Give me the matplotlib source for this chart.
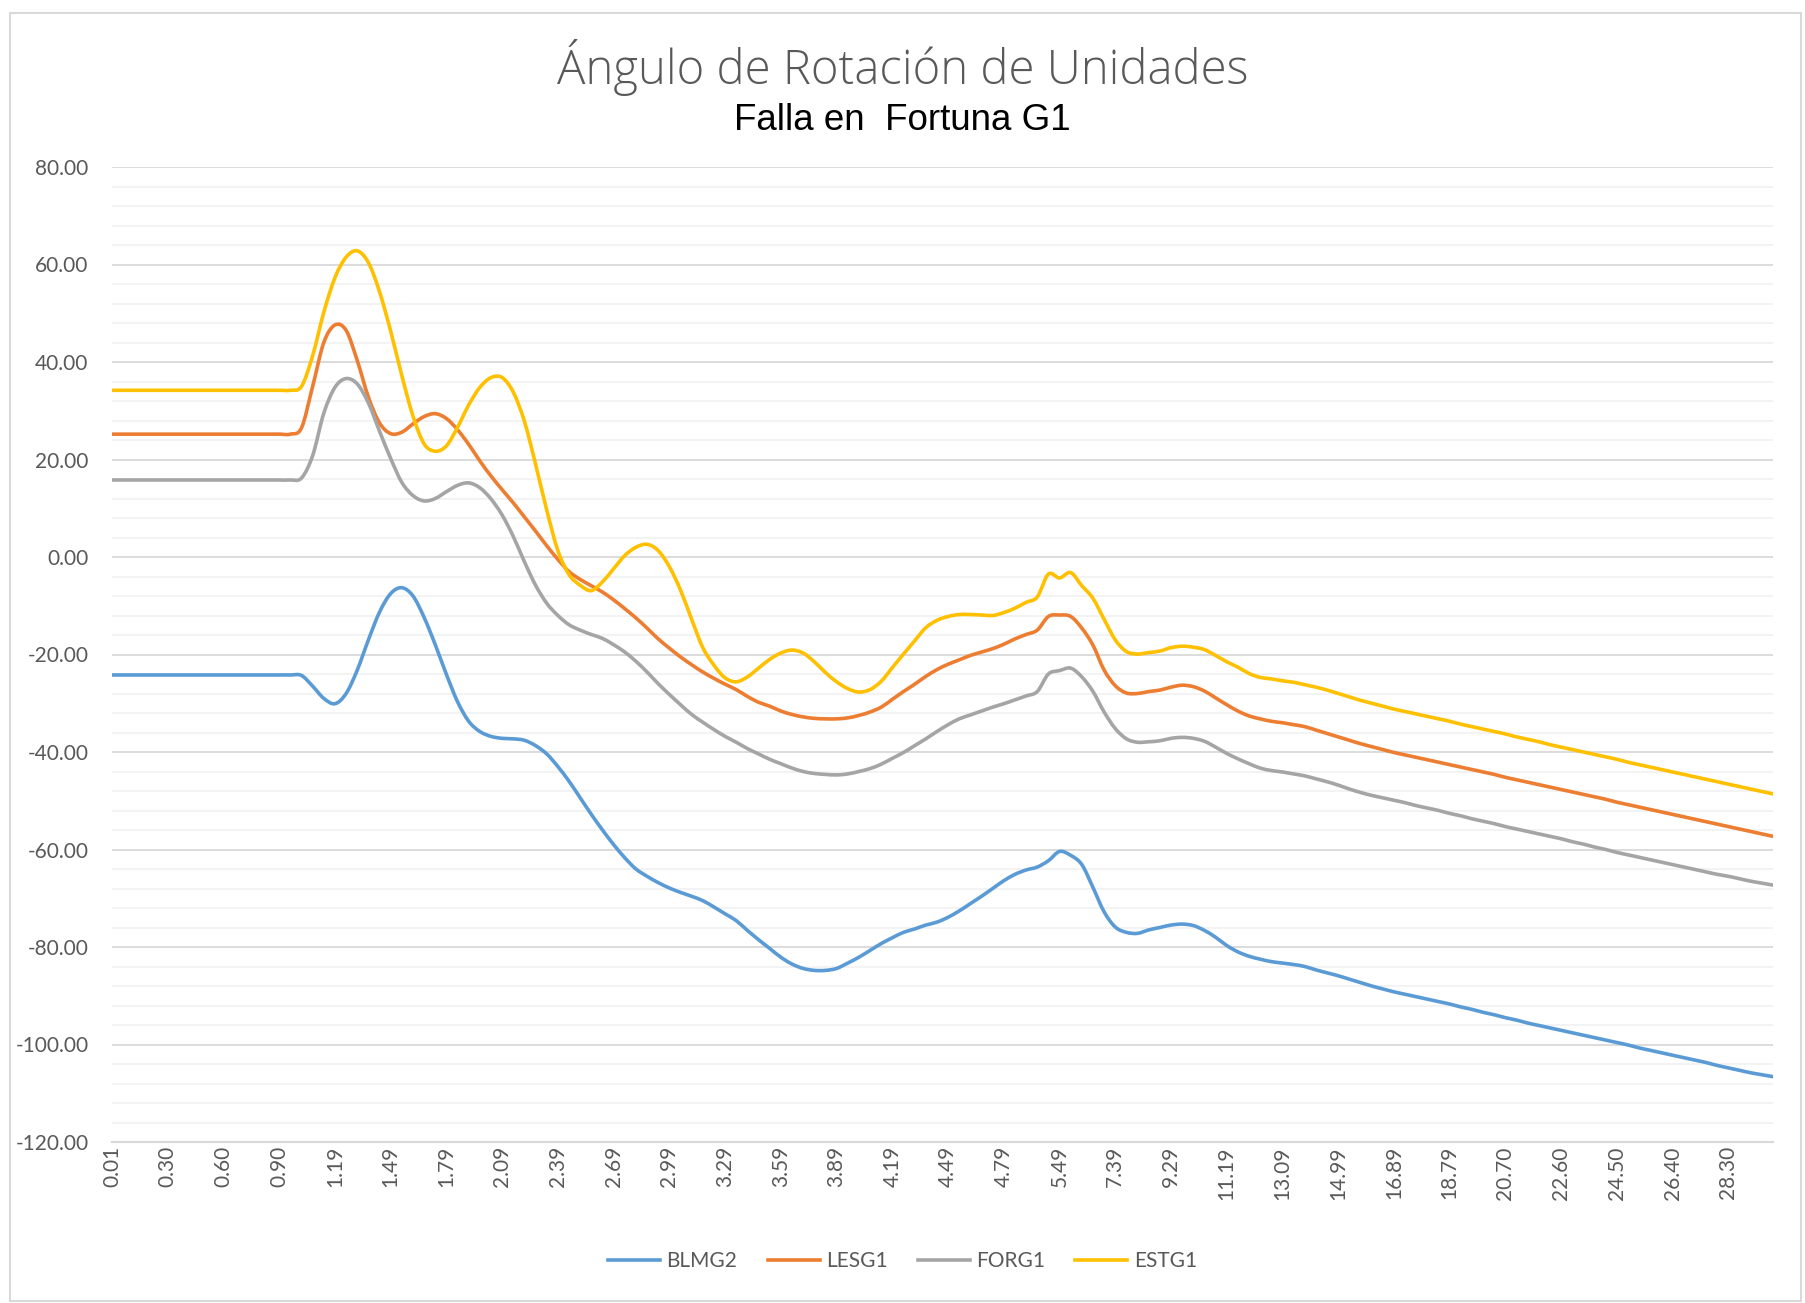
import matplotlib
matplotlib.use("Agg")
import matplotlib.pyplot as plt
from matplotlib.lines import Line2D
from matplotlib.patches import Rectangle, PathPatch
from matplotlib.path import Path


# category labels (one label every 5 samples)
time_labels = ["0.01", "0.30", "0.60", "0.90", "1.19", "1.49", "1.79", "2.09", "2.39", "2.69",
               "2.99", "3.29", "3.59", "3.89", "4.19", "4.49", "4.79", "5.49", "7.39", "9.29",
               "11.19", "13.09", "14.99", "16.89", "18.79", "20.70", "22.60", "24.50", "26.40", "28.30"]
points_per_label = 5

blmg2 = [-24.2] * 17 + [
    -24.3, -26.5, -29.0, -30.1, -28.0, -23.2, -17.0, -11.3, -7.5, -6.3,
    -8.0, -12.4, -18.0, -24.1, -29.7, -33.7, -35.8, -36.8, -37.2, -37.3,
    -37.6, -38.7, -40.4, -43.0, -46.0, -49.4, -52.8, -56.0, -59.0, -61.7,
    -64.0, -65.5, -66.8, -67.9, -68.8, -69.6, -70.5, -71.8, -73.2, -74.6,
    -76.6, -78.5, -80.3, -82.1, -83.5, -84.4, -84.8, -84.8, -84.4, -83.3,
    -82.1, -80.7, -79.3, -78.1, -77.0, -76.3, -75.5, -74.9, -73.9, -72.6,
    -71.1, -69.6, -68.0, -66.4, -65.1, -64.2, -63.6, -62.3, -60.4, -61.2,
    -63.1, -67.8, -72.8, -75.9, -77.0, -77.2, -76.5, -76.0, -75.5, -75.3,
    -75.6, -76.6, -78.0, -79.7, -81.0, -81.9, -82.5, -83.0, -83.3, -83.6,
    -84.0, -84.7, -85.3, -85.9, -86.6, -87.3, -88.0, -88.6, -89.2, -89.7,
    -90.2, -90.7, -91.2, -91.7, -92.3, -92.8, -93.4, -93.9, -94.5, -95.0,
    -95.6, -96.1, -96.6, -97.1, -97.6, -98.1, -98.6, -99.1, -99.6, -100.1,
    -100.7, -101.2, -101.7, -102.2, -102.7, -103.2, -103.7, -104.3, -104.8, -105.3,
    -105.8, -106.2, -106.6]

lesg1 = [25.2] * 17 + [
    26.5, 35.0, 44.0, 47.6, 46.5, 40.3, 32.8, 27.5, 25.3, 25.6,
    27.3, 28.8, 29.4, 28.4, 26.1, 23.1, 19.7, 16.6, 13.8, 11.1,
    8.2, 5.3, 2.3, -0.5, -3.0, -4.6, -5.9, -7.2, -8.8, -10.6,
    -12.5, -14.6, -16.8, -18.7, -20.5, -22.1, -23.6, -24.9, -26.1, -27.2,
    -28.6, -29.8, -30.6, -31.6, -32.3, -32.8, -33.1, -33.2, -33.2, -33.0,
    -32.5, -31.8, -30.8, -29.2, -27.6, -26.1, -24.5, -23.1, -22.0, -21.1,
    -20.2, -19.5, -18.8, -17.9, -16.8, -15.9, -15.0, -12.2, -11.9, -12.2,
    -14.6, -18.1, -23.2, -26.4, -27.9, -28.0, -27.6, -27.3, -26.7, -26.3,
    -26.6, -27.5, -28.9, -30.3, -31.6, -32.6, -33.2, -33.7, -34.0, -34.4,
    -34.8, -35.5, -36.2, -36.9, -37.6, -38.3, -38.9, -39.5, -40.1, -40.6,
    -41.1, -41.6, -42.1, -42.6, -43.1, -43.6, -44.1, -44.6, -45.2, -45.7,
    -46.2, -46.7, -47.2, -47.7, -48.2, -48.7, -49.2, -49.7, -50.3, -50.8,
    -51.3, -51.8, -52.3, -52.8, -53.3, -53.8, -54.3, -54.8, -55.3, -55.8,
    -56.3, -56.8, -57.3]

forg1 = [15.8] * 17 + [
    16.2, 20.8, 29.5, 34.8, 36.6, 35.5, 31.6, 25.8, 20.2, 15.3,
    12.6, 11.5, 12.0, 13.4, 14.7, 15.2, 14.2, 11.9, 8.6, 4.2,
    -1.0, -5.8, -9.5, -12.0, -13.9, -15.0, -15.9, -16.7, -18.0, -19.5,
    -21.4, -23.6, -26.0, -28.2, -30.3, -32.3, -33.9, -35.4, -36.8, -38.0,
    -39.3, -40.4, -41.5, -42.4, -43.3, -44.0, -44.4, -44.6, -44.7, -44.5,
    -44.0, -43.4, -42.5, -41.3, -40.1, -38.7, -37.3, -35.8, -34.4, -33.2,
    -32.4, -31.6, -30.8, -30.1, -29.3, -28.5, -27.6, -24.0, -23.3, -22.8,
    -24.6, -27.6, -31.8, -35.2, -37.3, -38.0, -37.9, -37.7, -37.2, -37.0,
    -37.2, -37.8, -39.0, -40.3, -41.4, -42.4, -43.3, -43.8, -44.1, -44.5,
    -44.9, -45.5, -46.1, -46.8, -47.6, -48.3, -48.9, -49.4, -49.9, -50.4,
    -51.0, -51.5, -52.0, -52.6, -53.1, -53.7, -54.2, -54.7, -55.3, -55.8,
    -56.3, -56.8, -57.3, -57.8, -58.4, -58.9, -59.5, -60.0, -60.6, -61.1,
    -61.6, -62.1, -62.6, -63.1, -63.6, -64.1, -64.6, -65.1, -65.5, -66.0,
    -66.5, -66.9, -67.3]

estg1 = [34.2] * 17 + [
    35.0, 41.3, 50.2, 57.3, 61.5, 62.8, 60.4, 54.4, 46.3, 37.2,
    28.9, 23.2, 21.7, 22.8, 26.6, 31.2, 34.8, 36.8, 36.8, 33.8,
    27.8, 19.0, 9.6, 1.3, -3.6, -5.8, -6.9, -5.1, -2.4, 0.3,
    2.0, 2.6, 1.3, -2.0, -6.8, -12.8, -18.6, -22.2, -24.8, -25.6,
    -24.6, -22.8, -21.0, -19.7, -19.1, -19.7, -21.5, -23.7, -25.6, -27.0,
    -27.7, -27.2, -25.5, -22.7, -19.9, -17.2, -14.5, -13.0, -12.2, -11.8,
    -11.8, -11.9, -12.0, -11.4, -10.5, -9.3, -8.2, -3.5, -4.3, -3.2,
    -5.9, -8.5, -12.8, -17.0, -19.4, -19.9, -19.6, -19.3, -18.6, -18.3,
    -18.5, -19.0, -20.2, -21.5, -22.6, -23.9, -24.7, -25.0, -25.4, -25.7,
    -26.2, -26.7, -27.3, -28.0, -28.7, -29.4, -30.0, -30.6, -31.2, -31.7,
    -32.2, -32.7, -33.2, -33.7, -34.3, -34.8, -35.3, -35.8, -36.3, -36.9,
    -37.4, -37.9, -38.5, -39.0, -39.5, -40.0, -40.5, -41.0, -41.5, -42.1,
    -42.6, -43.1, -43.6, -44.1, -44.6, -45.1, -45.6, -46.1, -46.6, -47.1,
    -47.6, -48.1, -48.6]

series_names = ["BLMG2", "LESG1", "FORG1", "ESTG1"]
series_colors = ["#5B9BD5", "#ED7D31", "#A5A5A5", "#FFC000"]
series_values = [blmg2, lesg1, forg1, estg1]

text_gray = "#595959"
ui_font = ["Lato", "DejaVu Sans"]


def smooth_path(values):
    # Excel-like smoothed line: cubic bezier through every point (Catmull-Rom style)
    pts = list(enumerate(values))
    verts = [pts[0]]
    codes = [Path.MOVETO]
    for i in range(len(pts) - 1):
        p0 = pts[max(i - 1, 0)]
        p1 = pts[i]
        p2 = pts[i + 1]
        p3 = pts[min(i + 2, len(pts) - 1)]
        c1 = (p1[0] + (p2[0] - p0[0]) / 6, p1[1] + (p2[1] - p0[1]) / 6)
        c2 = (p2[0] - (p3[0] - p1[0]) / 6, p2[1] - (p3[1] - p1[1]) / 6)
        verts += [c1, c2, p2]
        codes += [Path.CURVE4] * 3
    return Path(verts, codes)


fig = plt.figure(figsize=(18.05, 13.03), dpi=100)
fig.patches.append(Rectangle((10 / 1805, 2 / 1303), 1791 / 1805, 1288 / 1303,
                             transform=fig.transFigure, fill=False,
                             edgecolor="#D9D9D9", linewidth=1.5))

ax = fig.add_axes([112 / 1805, 1 - 1142 / 1303, 1661 / 1805, 975 / 1303])

for name, color, values in zip(series_names, series_colors, series_values):
    ax.add_patch(PathPatch(smooth_path(values), fill=False, edgecolor=color,
                           linewidth=2.6, capstyle="round", joinstyle="round"))

n = len(blmg2)
ax.set_xlim(0, n - 1)
ax.set_ylim(-120, 80)

ax.set_yticks(range(-120, 81, 20))
ax.set_yticklabels([f"{v:.2f}" for v in range(-120, 81, 20)])
ax.set_yticks(range(-120, 81, 4), minor=True)
ax.grid(True, axis="y", which="major", color="#D9D9D9", linewidth=1.3)
ax.grid(True, axis="y", which="minor", color="#F2F2F2", linewidth=1.3)
ax.set_axisbelow(True)

ax.set_xticks(range(0, n, points_per_label))
ax.set_xticklabels(time_labels)

ax.tick_params(axis="y", which="both", length=0, pad=17, labelsize=15,
               labelcolor=text_gray)
ax.tick_params(axis="x", length=0, pad=3, labelsize=15, labelcolor=text_gray,
               labelrotation=90)
for lbl in ax.get_xticklabels() + ax.get_yticklabels():
    lbl.set_family(ui_font)

for side in ["top", "right", "left"]:
    ax.spines[side].set_visible(False)
ax.spines["bottom"].set_color("#D9D9D9")
ax.spines["bottom"].set_linewidth(1.5)

fig.text(0.5, 1 - 67 / 1303, "Ángulo de Rotación de Unidades", ha="center", va="center",
         fontsize=34, color=text_gray, family=["Open Sans", "Lato"], fontweight="light")
fig.text(0.5, 1 - 120 / 1303, "Falla en  Fortuna G1", ha="center", va="center",
         fontsize=26.5, color="black", family=["Liberation Sans Narrow", "Liberation Sans"])

handles = [Line2D([], [], color=c, linewidth=2.6) for c in series_colors]
fig.legend(handles, series_names, loc="center", bbox_to_anchor=(0.5, 1 - 1261 / 1303),
           ncol=4, frameon=False, handlelength=2.5, handletextpad=0.3,
           columnspacing=1.45, prop={"family": ui_font, "size": 15},
           labelcolor=text_gray)

fig.savefig("out.png", dpi=100)
